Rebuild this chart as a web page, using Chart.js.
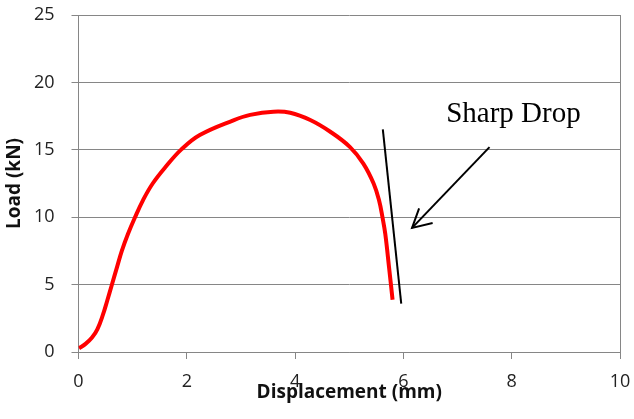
<!DOCTYPE html>
<html>
<head>
<meta charset="utf-8">
<script src="https://cdn.jsdelivr.net/npm/chart.js@4.4.0/dist/chart.umd.min.js"></script>
<style>
  html, body { margin: 0; padding: 0; background: #ffffff; }
  #wrap { width: 634px; height: 419px; }
</style>
</head>
<body>
<div id="wrap"><canvas id="c" width="634" height="419"></canvas></div>
<script>
// Load–displacement curve
const displacement = [0.01, 0.13, 0.25, 0.35, 0.45, 0.53, 0.615, 0.71, 0.80, 0.915, 1.04, 1.19, 1.37, 1.61, 1.90, 2.24, 2.86, 3.17, 3.6, 3.91, 4.28, 4.65, 5.01, 5.26, 5.45, 5.55, 5.615, 5.665, 5.735, 5.80];
const load =         [0.28, 0.6, 1.07, 1.7, 2.75, 3.8, 4.97, 6.28, 7.5, 8.77, 9.96, 11.25, 12.5, 13.74, 15.03, 16.1, 17.19, 17.59, 17.83, 17.75, 17.21, 16.34, 15.22, 13.98, 12.5, 11.25, 9.96, 8.77, 6.28, 3.87];

// Annotation marks in data coordinates
const dropLineX = [5.62, 5.96];
const dropLineY = [16.52, 3.59];
const arrowShaftX = [7.59, 6.16];
const arrowShaftY = [15.2, 9.21];
const arrowHeadX = [6.29, 6.16, 6.54];
const arrowHeadY = [10.65, 9.21, 9.57];
const labelText = 'Sharp Drop';
const labelX = 6.79;
const labelY = 17.04;

// Axis settings
const xTitle = 'Displacement (mm)';
const yTitle = 'Load (kN)';
const xMin = 0, xMax = 10, xStep = 2;
const yMin = 0, yMax = 25, yStep = 5;

const pts = (xs, ys) => xs.map((x, i) => ({ x: x, y: ys[i] }));
const GRAY = '#868686';

const labelPlugin = {
  id: 'sharpDropLabel',
  afterDatasetsDraw(chart) {
    const { ctx, scales } = chart;
    ctx.save();
    ctx.font = '29px "Liberation Serif", "Times New Roman", serif';
    ctx.fillStyle = '#000000';
    ctx.textBaseline = 'alphabetic';
    ctx.textAlign = 'left';
    ctx.fillText(labelText, scales.x.getPixelForValue(labelX), scales.y.getPixelForValue(labelY));
    ctx.restore();
  }
};

new Chart(document.getElementById('c'), {
  type: 'scatter',
  data: {
    datasets: [
      { data: pts(displacement, load), showLine: true, borderColor: '#ff0000', borderWidth: 4,
        pointRadius: 0, tension: 0.4, fill: false, order: 1, borderJoinStyle: 'round' },
      { data: pts(dropLineX, dropLineY), showLine: true, borderColor: '#000000', borderWidth: 2,
        pointRadius: 0, fill: false, order: 0 },
      { data: pts(arrowShaftX, arrowShaftY), showLine: true, borderColor: '#000000', borderWidth: 2,
        pointRadius: 0, fill: false, order: 0 },
      { data: pts(arrowHeadX, arrowHeadY), showLine: true, borderColor: '#000000', borderWidth: 2,
        pointRadius: 0, fill: false, order: 0, borderJoinStyle: 'miter' }
    ]
  },
  options: {
    responsive: false,
    animation: false,
    devicePixelRatio: 1,
    layout: { padding: { top: 15, right: 14, left: 0, bottom: 0 } },
    plugins: { legend: { display: false }, tooltip: { enabled: false } },
    scales: {
      x: {
        type: 'linear', min: xMin, max: xMax,
        afterFit(s) { s.height = 67; s.paddingLeft = 0; s.paddingRight = 0; },
        ticks: { stepSize: xStep, color: '#222222', padding: 12,
                 font: { family: '"Open Sans", sans-serif', size: 18 } },
        grid: {
          drawOnChartArea: true,
          color: (c) => (c.tick && c.tick.value === xMax) ? GRAY : 'rgba(0,0,0,0)',
          tickColor: GRAY, tickLength: 7, lineWidth: 1
        },
        border: { display: true, color: GRAY, width: 1 },
        title: { display: true, text: xTitle, color: '#111111', padding: { top: 0, bottom: 15 },
                 font: { family: '"Open Sans", sans-serif', size: 19, weight: 'bold' } }
      },
      y: {
        type: 'linear', min: yMin, max: yMax,
        afterFit(s) { s.width = 78.5; s.paddingTop = 0; s.paddingBottom = 0; },
        ticks: { stepSize: yStep, color: '#222222', padding: 17,
                 font: { family: '"Open Sans", sans-serif', size: 18 } },
        grid: { color: GRAY, tickColor: GRAY, tickLength: 7, lineWidth: 1 },
        border: { display: true, color: GRAY, width: 1 },
        title: { display: true, text: yTitle, color: '#111111', padding: { top: 3, bottom: 0 },
                 font: { family: '"Open Sans", sans-serif', size: 19, weight: 'bold' } }
      }
    }
  },
  plugins: [labelPlugin]
});
</script>
</body>
</html>
